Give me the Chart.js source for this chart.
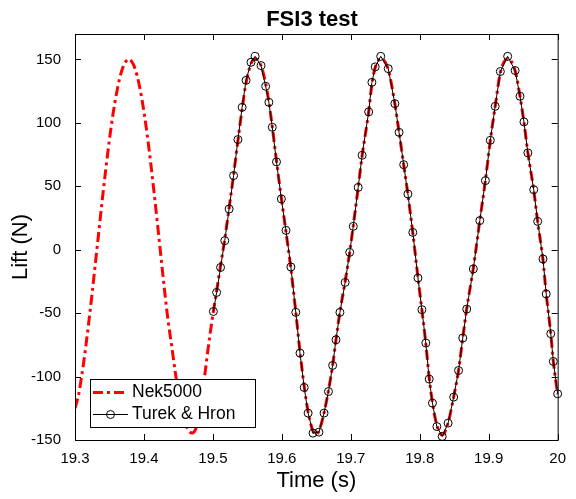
<!DOCTYPE html>
<html>
<head>
<meta charset="utf-8">
<script src="https://cdn.jsdelivr.net/npm/chart.js@4/dist/chart.umd.min.js"></script>
<style>
  html, body { margin: 0; padding: 0; background: #fff; }
  #wrap { position: relative; width: 576px; height: 499px; }
</style>
</head>
<body>
<div id="wrap"><canvas id="chart"></canvas></div>
<script>
// Nek5000 lift curve (time in s, lift in N)
const nekTime = [
  19.300, 19.305, 19.310, 19.315, 19.320, 19.325, 19.330, 19.335, 19.340, 19.345,
  19.350, 19.355, 19.360, 19.365, 19.370, 19.375, 19.378, 19.380, 19.385, 19.390,
  19.395, 19.400, 19.405, 19.410, 19.415, 19.420, 19.425, 19.430, 19.435, 19.440,
  19.445, 19.450, 19.455, 19.460, 19.465, 19.470, 19.475, 19.480, 19.485, 19.490,
  19.495,
  19.5007, 19.5054, 19.5111, 19.5172, 19.5235, 19.5300, 19.5363, 19.5424, 19.5481, 19.5552,
  19.5613, 19.5698, 19.5765, 19.5812, 19.5861, 19.5922, 19.5993, 19.6060, 19.6131, 19.6202,
  19.6263, 19.6324, 19.6381, 19.6452, 19.6495, 19.6538, 19.6612, 19.6676, 19.6737, 19.6785,
  19.6842, 19.6918, 19.6984, 19.7036, 19.7107, 19.7164, 19.7259, 19.7306, 19.7354, 19.7434,
  19.7543, 19.7639, 19.7700, 19.7767, 19.7828, 19.7899, 19.7974, 19.8031, 19.8088, 19.8137,
  19.8184, 19.8248, 19.8326, 19.8411, 19.8492, 19.8563, 19.8624, 19.8681, 19.8777, 19.8871,
  19.8952, 19.9023, 19.9094, 19.9169, 19.9275, 19.9383, 19.9454, 19.9511, 19.9568, 19.9653,
  19.9710, 19.9787, 19.9834, 19.9900, 19.9937, 20.0000
];
const nekLift = [
  -125, -115, -98.5, -79, -57, -33.5, -8.5, 16.5, 41.5, 65,
  87, 106.5, 122.5, 135.5, 144.5, 149.2, 150.2, 149.8, 145.6, 137.3,
  124.9, 108.7, 89.4, 67.4, 43.5, 18.4, -7.3, -32.6, -56, -75,
  -95, -112.5, -127, -137, -142.8, -144.5, -141.5, -132, -113, -91,
  -70,
  -48.7, -32.5, -12.5, 8.5, 33, 59, 86, 111, 131.5, 146.5,
  150.5, 145, 131, 116.5, 97, 70, 40.5, 14, -15, -49,
  -80.5, -107.5, -128, -143, -145.5, -143, -128.5, -111, -91, -71,
  -49, -25, -2, 19, 49, 74, 108.5, 130.5, 143.5, 150.5,
  142, 115, 92.5, 67, 43.5, 13.5, -22, -47.5, -74, -101,
  -120.5, -138.5, -146, -136.5, -116, -95, -69.5, -46.5, -14.5, 23,
  54.5, 86, 113, 139.5, 150.5, 141, 121, 100.5, 76.5, 47,
  22, -8, -35, -66, -88, -114
];

// Turek & Hron reference points
const turekTime = [
  19.5007, 19.5054, 19.5111, 19.5172, 19.5235, 19.5300, 19.5363, 19.5424, 19.5481, 19.5552,
  19.5613, 19.5698, 19.5765, 19.5812, 19.5861, 19.5922, 19.5993, 19.6060, 19.6131, 19.6202,
  19.6263, 19.6324, 19.6381, 19.6452, 19.6538, 19.6612, 19.6676, 19.6737, 19.6785, 19.6842,
  19.6918, 19.6984, 19.7036, 19.7107, 19.7164, 19.7259, 19.7306, 19.7354, 19.7434, 19.7543,
  19.7639, 19.7700, 19.7767, 19.7828, 19.7899, 19.7974, 19.8031, 19.8088, 19.8137, 19.8184,
  19.8248, 19.8326, 19.8411, 19.8492, 19.8563, 19.8624, 19.8681, 19.8777, 19.8871, 19.8952,
  19.9023, 19.9094, 19.9169, 19.9275, 19.9383, 19.9454, 19.9511, 19.9568, 19.9653, 19.9710,
  19.9787, 19.9834, 19.9900, 19.9937, 20.0000
];
const turekLift = [
  -48.7, -33.7, -14.0, 7.1, 32.1, 58.4, 86.8, 112.2, 133.5, 147.7,
  152.4, 145.1, 128.8, 116.2, 96.5, 69.2, 40.0, 15.2, -13.6, -49.4,
  -81.5, -108.6, -128.8, -144.6, -143.8, -128.8, -111.8, -91.2, -71.0, -49.4,
  -25.8, -2.1, 18.4, 49.1, 74.4, 108.6, 131.9, 144.1, 152.4, 142.7,
  115.1, 92.5, 67.0, 43.9, 13.6, -22.3, -47.3, -73.6, -102.0, -120.9,
  -139.4, -147.2, -136.7, -116.2, -95.2, -69.6, -46.8, -15.2, 22.9, 54.4,
  86.2, 113.0, 140.4, 152.4, 141.2, 120.9, 100.7, 76.3, 47.3, 22.3,
  -7.3, -34.9, -66.2, -88.1, -113.6
];

const xTicks = [19.3, 19.4, 19.5, 19.6, 19.7, 19.8, 19.9, 20];
const yTicks = [-150, -100, -50, 0, 50, 100, 150];

const FONT = '"Liberation Sans", Arial, Helvetica, sans-serif';
Chart.defaults.font.family = FONT;
Chart.defaults.color = '#000';

// box, inward ticks, title, y label and legend like the matlab figure
const framePlugin = {
  id: 'frame',
  afterDraw(chart) {
    const { ctx, chartArea: a, scales } = chart;
    ctx.save();
    ctx.strokeStyle = '#000';
    ctx.lineWidth = 1;
    ctx.strokeRect(a.left + 0.5, a.top + 0.5, a.right - a.left, a.bottom - a.top);

    ctx.beginPath();
    xTicks.forEach(v => {
      const px = Math.round(scales.x.getPixelForValue(v)) + 0.5;
      ctx.moveTo(px, a.bottom); ctx.lineTo(px, a.bottom - 6);
      ctx.moveTo(px, a.top); ctx.lineTo(px, a.top + 6);
    });
    yTicks.forEach(v => {
      const py = Math.round(scales.y.getPixelForValue(v)) + 0.5;
      ctx.moveTo(a.left, py); ctx.lineTo(a.left + 6, py);
      ctx.moveTo(a.right, py); ctx.lineTo(a.right - 6, py);
    });
    ctx.stroke();

    // title
    ctx.fillStyle = '#000';
    ctx.font = 'bold 22px ' + FONT;
    ctx.textAlign = 'center';
    ctx.textBaseline = 'alphabetic';
    ctx.fillText('FSI3 test', 312, 26);

    // y label
    ctx.save();
    ctx.translate(21, 247);
    ctx.rotate(-Math.PI / 2);
    ctx.font = '22px ' + FONT;
    ctx.textBaseline = 'middle';
    ctx.fillText('Lift (N)', 0, 0);
    ctx.restore();

    // legend
    const ds = chart.data.datasets;
    const lx = 90.5, ly = 379.5, lw = 165, lh = 48;
    ctx.fillStyle = '#fff';
    ctx.fillRect(lx, ly, lw, lh);
    ctx.strokeStyle = '#000';
    ctx.strokeRect(lx, ly, lw, lh);
    const rows = [392.5, 414.5];
    ctx.font = '17.5px ' + FONT;
    ctx.textAlign = 'left';
    ctx.textBaseline = 'middle';
    ds.forEach((d, i) => {
      const ry = rows[i];
      ctx.save();
      ctx.strokeStyle = d.borderColor;
      ctx.lineWidth = d.borderWidth;
      ctx.setLineDash(d.borderDash || []);
      ctx.beginPath();
      ctx.moveTo(93, ry); ctx.lineTo(128, ry);
      ctx.stroke();
      ctx.restore();
      if (d.pointRadius > 0) {
        ctx.beginPath();
        ctx.arc(110.5, ry, d.pointRadius, 0, Math.PI * 2);
        ctx.strokeStyle = d.pointBorderColor;
        ctx.lineWidth = d.pointBorderWidth;
        ctx.stroke();
      }
      ctx.fillStyle = '#000';
      ctx.fillText(d.label, 132, ry);
    });
    ctx.restore();
  }
};

new Chart(document.getElementById('chart'), {
  type: 'line',
  data: {
    datasets: [
      {
        label: 'Nek5000',
        data: nekTime.map((t, i) => ({ x: t, y: nekLift[i] })),
        borderColor: '#ff0000',
        borderWidth: 3,
        borderDash: [10, 4, 3, 4],
        pointRadius: 0,
        cubicInterpolationMode: 'monotone',
        fill: false,
        order: 2
      },
      {
        label: 'Turek & Hron',
        data: turekTime.map((t, i) => ({ x: t, y: turekLift[i] })),
        borderColor: '#000',
        borderWidth: 1,
        tension: 0,
        pointRadius: 4,
        pointStyle: 'circle',
        pointBorderColor: '#000',
        pointBackgroundColor: 'rgba(0,0,0,0)',
        pointBorderWidth: 1,
        fill: false,
        clip: 8,
        order: 1
      }
    ]
  },
  options: {
    responsive: true,
    maintainAspectRatio: false,
    animation: false,
    layout: { padding: { top: 34, right: 8, left: 0, bottom: 0 } },
    plugins: {
      legend: { display: false },
      tooltip: { enabled: false },
      title: { display: false }
    },
    scales: {
      x: {
        type: 'linear',
        min: 19.3,
        max: 20,
        afterBuildTicks: s => { s.ticks = xTicks.map(v => ({ value: v })); },
        afterFit: s => { s.height = 59; },
        grid: { display: false, drawTicks: false },
        border: { display: false },
        ticks: { font: { size: 15 }, padding: 10, maxRotation: 0, callback: v => String(v) },
        title: { display: true, text: 'Time (s)', font: { size: 22 }, padding: { top: 0, bottom: 5 } }
      },
      y: {
        type: 'linear',
        min: -150,
        max: 170,
        afterBuildTicks: s => { s.ticks = yTicks.map(v => ({ value: v })); },
        afterFit: s => { s.width = 75; },
        grid: { display: false, drawTicks: false },
        border: { display: false },
        ticks: { font: { size: 15 }, padding: 14, callback: v => String(v) }
      }
    }
  },
  plugins: [framePlugin]
});
</script>
</body>
</html>
